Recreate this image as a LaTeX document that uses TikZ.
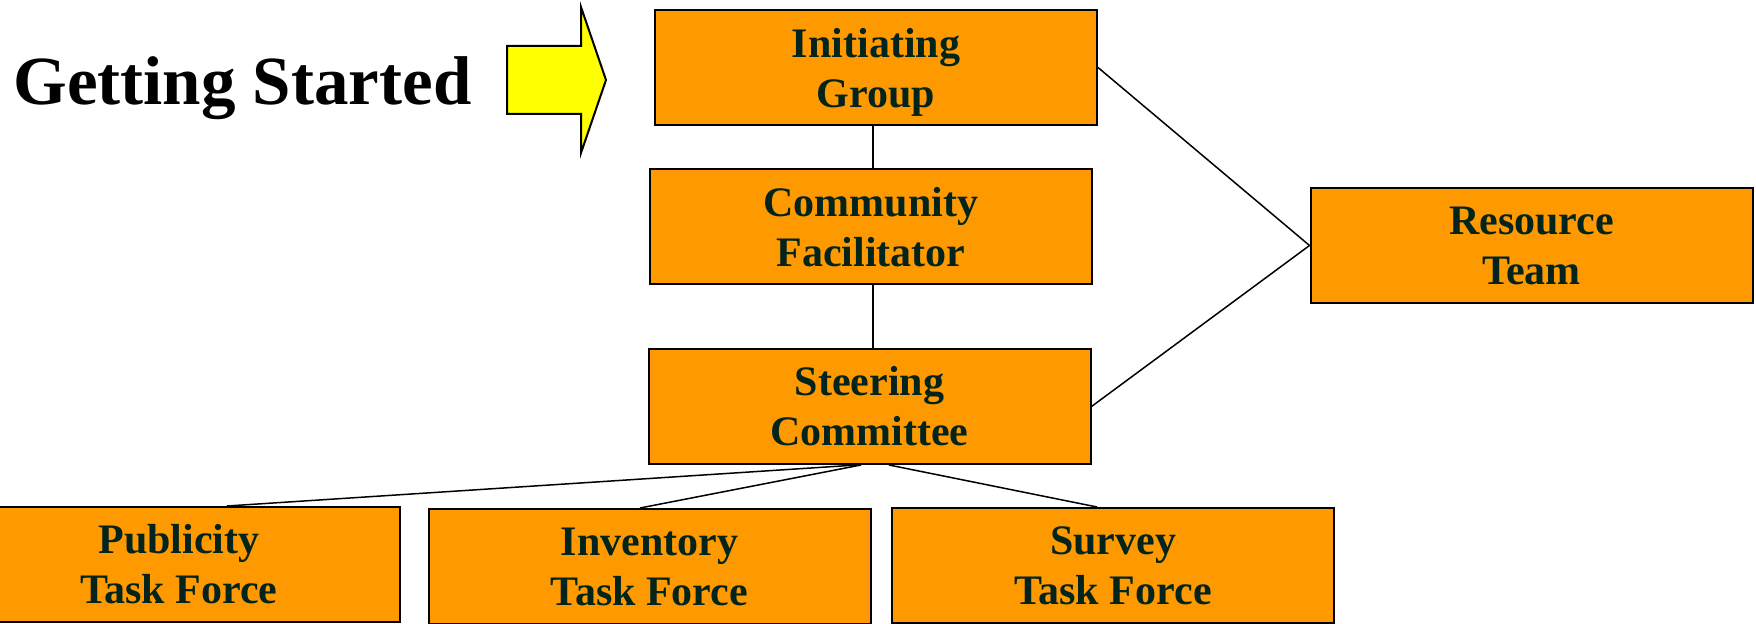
\documentclass[tikz,border=0pt]{standalone}
\usepackage{fontspec}
\setmainfont{Liberation Serif}
\usetikzlibrary{calc}
\definecolor{boxorange}{HTML}{FF9900}
\definecolor{boxtext}{HTML}{03241C}
\definecolor{arrowyellow}{HTML}{FFFF00}
\tikzset{
  orgbox/.style={draw=black, line width=1pt, fill=boxorange, text=boxtext,
    minimum width=221pt, minimum height=57.5pt, inner sep=0pt, align=center,
    font=\fontsize{21}{25}\selectfont\bfseries},
  link/.style={draw=black, line width=0.75pt},
}
\begin{document}
\begin{tikzpicture}[x=0.5pt, y=-0.5pt]
\useasboundingbox (0,0) rectangle (1756,624);
\clip (0,0) rectangle (1756,624);
% title and arrow
\node[anchor=base west, inner sep=0pt, font=\fontsize{34.5}{40}\selectfont\bfseries] (title) at (13,105) {Getting Started};
\draw[draw=black, line width=1pt, fill=arrowyellow, line join=miter]
  (507,46) -- (581,46) -- (581,7) -- (606,80) -- (581,153) -- (581,114) -- (507,114) -- cycle;
% boxes
\node[orgbox] (ig) at (876,67.5) {Initiating\\\raisebox{0pt}[\height][0pt]{Group}};
\node[orgbox] (cf) at (871,227) {Community\\Facilitator};
\node[orgbox] (sc) at (869.5,406.5) {Steering\\Committee};
\node[orgbox] (rt) at (1531.5,245.5) {Resource\\Team};
\node[orgbox] (pub) at (179,564.5) {Publicity\\Task Force};
\node[orgbox] (inv) at (649.5,566.5) {Inventory\\Task Force};
\node[orgbox] (sur) at (1113,565.5) {Survey\\Task Force};
% connectors
\draw[link] ($(ig.south)+(-3,0)$) -- ($(cf.north)+(2,0)$);
\draw[link] ($(cf.south)+(2,0)$) -- ($(sc.north)+(3.5,0)$);
\draw[link] (ig.east) -- (rt.west);
\draw[link] (sc.east) -- (rt.west);
\draw[link] ($(sc.south)+(-12.5,0)$) -- ($(pub.north)+(48,0)$);
\draw[link] ($(sc.south)+(-8.5,0)$) -- ($(inv.north)+(-9.5,0)$);
\draw[link] ($(sc.south)+(19.5,0)$) -- ($(sur.north)+(-16,0)$);
\end{tikzpicture}
\end{document}
